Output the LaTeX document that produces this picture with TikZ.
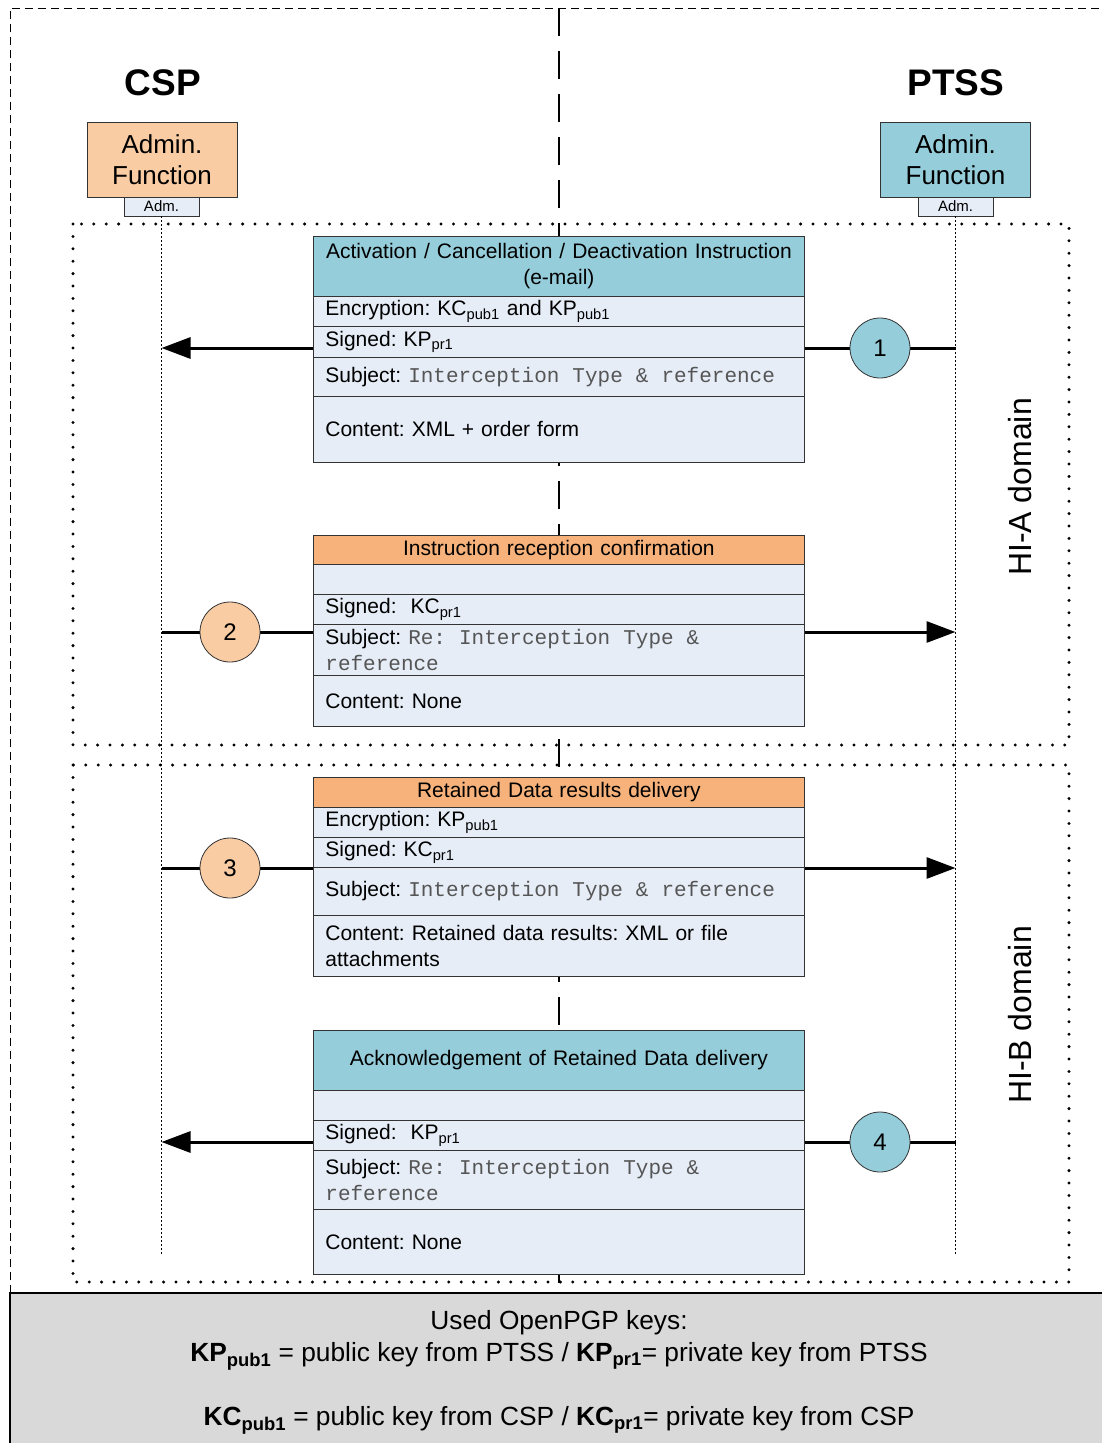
\documentclass[tikz,border=0pt]{standalone}
\usepackage{fontspec}
\setmainfont{Liberation Sans}
\setmonofont{Liberation Mono}
\usetikzlibrary{arrows.meta}
\definecolor{hdrblue}{RGB}{150,205,218}
\definecolor{hdrorange}{RGB}{246,178,122}
\definecolor{peach}{RGB}{249,204,164}
\definecolor{rowfill}{RGB}{230,237,247}
\definecolor{keygray}{RGB}{217,217,217}
\definecolor{monogray}{RGB}{85,85,85}
\newcommand{\sbs}[1]{\textsubscript{#1}}
\newcommand{\mono}[1]{{\ttfamily\spaceskip=0.62em\relax\color{monogray}#1}}
\frenchspacing
\begin{document}
\begin{tikzpicture}[x=1pt,y=-1pt,
  rowbox/.style={draw=black!80, line width=0.8pt, fill=rowfill, anchor=north west,
    minimum width=491pt, text width=467pt, inner xsep=12pt, inner ysep=0pt,
    align=left, font=\fontsize{21}{26}\selectfont\frenchspacing},
  hdrbox/.style={rowbox, align=center},
  circ/.style={circle, draw=black!80, line width=0.8pt, minimum size=60pt, inner sep=0pt,
    font=\fontsize{24}{24}\selectfont},
  adminbox/.style={draw=black!80, line width=0.8pt, minimum width=150pt, minimum height=75pt,
    align=center, inner sep=0pt, font=\fontsize{26}{31}\selectfont},
  admport/.style={draw=black!80, line width=0.8pt, fill=rowfill, minimum width=75pt,
    minimum height=19pt, inner sep=0pt, font=\fontsize{15}{15}\selectfont},
  partylabel/.style={font=\fontsize{37}{37}\selectfont\bfseries},
  domlabel/.style={rotate=90, font=\fontsize{32}{32}\selectfont},
  dotbox/.style={line width=3.3pt, line cap=round, dash pattern=on 0pt off 12.4pt},
  lifeline/.style={line width=1.3pt, dash pattern=on 2pt off 2pt},
  outerdash/.style={line width=1pt, dash pattern=on 8pt off 5pt},
  centerdash/.style={line width=2pt, dash pattern=on 28pt off 15pt},
  msg/.style={line width=3pt, -{Triangle[length=29pt,width=21pt]}},
  keyline/.style={font=\fontsize{26.3}{30}\selectfont\frenchspacing}
]
\useasboundingbox (0,0) rectangle (1102,1443);

% frames
\draw[dotbox] (73,224) rectangle (1069,745);
\draw[dotbox] (73,765) rectangle (1069,1282);
\draw[outerdash] (10,1293) -- (10,8) -- (1110,8);
\draw[centerdash] (559,8) -- (559,1293);

% parties
\node[partylabel] (csp) at (163,83) {CSP};
\node[partylabel] (ptss) at (956,83) {PTSS};
\node[adminbox, fill=peach] (admC) at (162,160) {Admin.\\Function};
\node[adminbox, fill=hdrblue] (admP) at (955.5,160) {Admin.\\Function};
\node[admport] (portC) at (161.5,206.5) {Adm.};
\node[admport] (portP) at (955.5,206.5) {Adm.};

% lifelines
\coordinate (cspEnd) at (161.5,1255);
\coordinate (ptsEnd) at (955.5,1255);
\draw[lifeline] (portC.south) -- (cspEnd);
\draw[lifeline] (portP.south) -- (ptsEnd);

% message connectors
\coordinate (c1) at (161.5,348);  \coordinate (p1) at (955.5,348);
\coordinate (c2) at (161.5,632);  \coordinate (p2) at (955.5,632);
\coordinate (c3) at (161.5,868);  \coordinate (p3) at (955.5,868);
\coordinate (c4) at (161.5,1142); \coordinate (p4) at (955.5,1142);
\draw[msg] (p1) -- (c1);
\draw[msg] (c2) -- (p2);
\draw[msg] (c3) -- (p3);
\draw[msg] (p4) -- (c4);

% message 1
\node[hdrbox, fill=hdrblue, minimum height=60pt] (m1h) at (313,236) {Activation / Cancellation / Deactivation Instruction\\(e-mail)};
\node[rowbox, minimum height=30pt] (m1e) at (313,296) {Encryption: KC\sbs{pub1} and KP\sbs{pub1}};
\node[rowbox, minimum height=31pt] (m1s) at (313,326) {Signed: KP\sbs{pr1}};
\node[rowbox, minimum height=39pt] (m1j) at (313,357) {Subject: \mono{Interception Type \& reference}};
\node[rowbox, minimum height=66pt] (m1c) at (313,396) {Content: XML + order form};

% message 2
\node[hdrbox, fill=hdrorange, minimum height=29pt] (m2h) at (313,535) {Instruction reception confirmation};
\node[rowbox, minimum height=30pt] (m2e) at (313,564) {};
\node[rowbox, minimum height=30pt] (m2s) at (313,594) {Signed:\ \ KC\sbs{pr1}};
\node[rowbox, minimum height=51pt] (m2j) at (313,624) {Subject: \mono{Re: Interception Type \&}\\\mono{reference}};
\node[rowbox, minimum height=51pt] (m2c) at (313,675) {Content: None};

% message 3
\node[hdrbox, fill=hdrorange, minimum height=30pt] (m3h) at (313,777) {Retained Data results delivery};
\node[rowbox, minimum height=30pt] (m3e) at (313,807) {Encryption: KP\sbs{pub1}};
\node[rowbox, minimum height=30pt] (m3s) at (313,837) {Signed: KC\sbs{pr1}};
\node[rowbox, minimum height=48pt] (m3j) at (313,867) {Subject: \mono{Interception Type \& reference}};
\node[rowbox, minimum height=61pt] (m3c) at (313,915) {Content: Retained data results: XML or file\\attachments};

% message 4
\node[hdrbox, fill=hdrblue, minimum height=60pt] (m4h) at (313,1030) {Acknowledgement of Retained Data delivery};
\node[rowbox, minimum height=30pt] (m4e) at (313,1090) {};
\node[rowbox, minimum height=30pt] (m4s) at (313,1120) {Signed:\ \ KP\sbs{pr1}};
\node[rowbox, minimum height=59pt] (m4j) at (313,1150) {Subject: \mono{Re: Interception Type \&}\\\mono{reference}};
\node[rowbox, minimum height=65pt] (m4c) at (313,1209) {Content: None};

% step numbers
\node[circ, fill=hdrblue] (n1) at (880,348) {1};
\node[circ, fill=peach] (n2) at (230,632) {2};
\node[circ, fill=peach] (n3) at (230,868) {3};
\node[circ, fill=hdrblue] (n4) at (880,1142) {4};

% domains
\node[domlabel] (hia) at (1020,487) {HI-A domain};
\node[domlabel] (hib) at (1020,1015) {HI-B domain};

% keys legend
\path[draw=black, line width=2.5pt, fill=keygray] (10,1293) rectangle (1120,1460);
\node[keyline] (k0) at (559,1323) {Used OpenPGP keys:};
\node[keyline] (k1) at (559,1356) {\textbf{KP\sbs{pub1}} = public key from PTSS / \textbf{KP\sbs{pr1}}= private key from PTSS};
\node[keyline] (k2) at (559,1420) {\textbf{KC\sbs{pub1}} = public key from CSP / \textbf{KC\sbs{pr1}}= private key from CSP};
\end{tikzpicture}
\end{document}
